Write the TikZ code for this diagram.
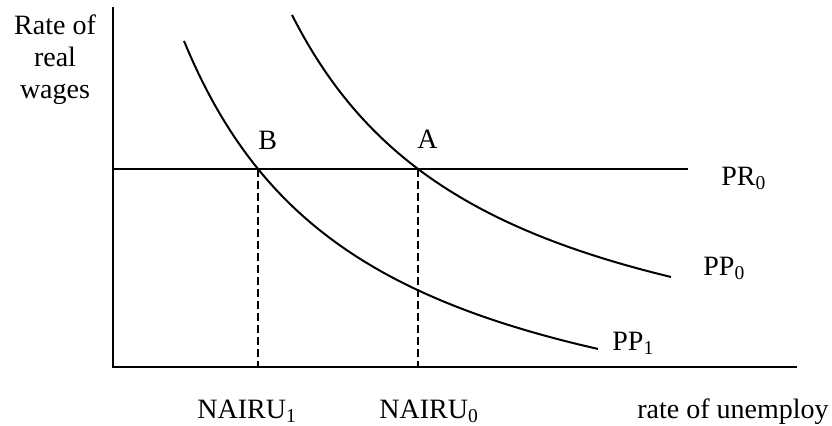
\documentclass[tikz,border=0pt]{standalone}
\usepackage{fontspec}
\setmainfont{Liberation Serif}
\begin{document}
\begin{tikzpicture}[x=0.5pt,y=-0.5pt,
  axis/.style={line width=1pt},
  curve/.style={line width=1pt},
  guide/.style={line width=0.9pt, dash pattern=on 4pt off 2pt},
  lbl/.style={inner sep=0pt, anchor=base west, font=\fontsize{14}{16}\selectfont}]
\useasboundingbox (0,0) rectangle (832,425);
% axes
\coordinate (ytop) at (113,7);
\coordinate (O) at (113,367);
\coordinate (xend) at (797,367);
\draw[axis] (ytop) -- (O) -- (xend);
% PR0 line
\coordinate (PRs) at (113,169);
\coordinate (PRe) at (688,169);
\draw[axis] (PRs) -- (PRe);
% intersections and feet
\coordinate (A) at (418,169);
\coordinate (B) at (258,169);
\coordinate (Af) at (418,367);
\coordinate (Bf) at (258,367);
\draw[guide] (A) -- (Af);
\draw[guide] (B) -- (Bf);
% curves
\draw[curve] plot[domain=292:671, samples=100, smooth] (\x, {417.6 - 286.2*(286.2/(\x-88.6))});
\draw[curve] plot[domain=184:598, samples=100, smooth] (\x, {484.8 - 284.7*(284.7/(\x-1.4))});
% labels
\node[lbl, anchor=north, align=center] (ylab) at (55,14) {Rate of\\real\\wages};
\node[lbl] (Blab) at (258,149) {B};
\node[lbl] (Alab) at (417,148) {A};
\node[lbl] (PR0) at (721,185) {PR\textsubscript{0}};
\node[lbl] (PP0) at (703,275) {PP\textsubscript{0}};
\node[lbl] (PP1) at (612,350) {PP\textsubscript{1}};
\node[lbl] (N1) at (197,418) {NAIRU\textsubscript{1}};
\node[lbl] (N0) at (379,418) {NAIRU\textsubscript{0}};
\node[lbl] (xlab) at (637,418) {rate of unemploy};
\end{tikzpicture}
\end{document}
